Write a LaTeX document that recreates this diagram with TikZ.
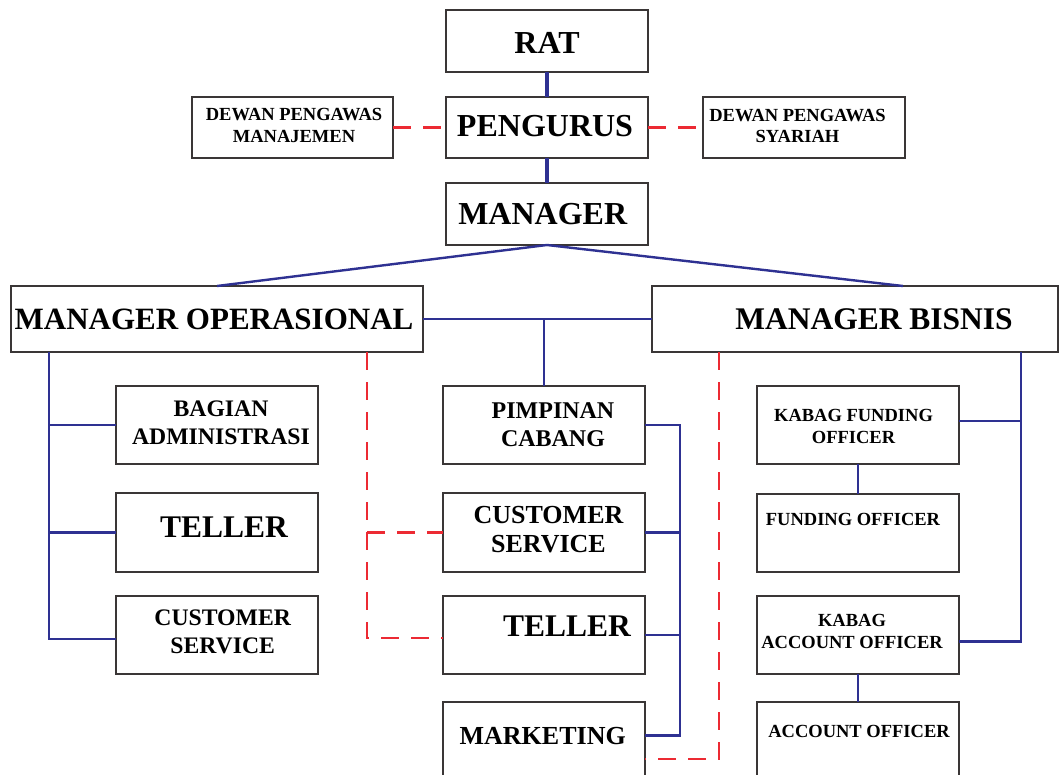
\documentclass[tikz,border=0pt]{standalone}
\usepackage{fontspec}
\setmainfont{Liberation Serif}
\definecolor{navy}{HTML}{2E3192}
\definecolor{dred}{HTML}{EC2A33}
\definecolor{bgray}{HTML}{3A3636}
\newcommand\mkbox[5]{\node[box,minimum width={(#4)-(#2)},minimum height={(#5)-(#3)}] (#1) at ({((#2)+(#4))/2},{((#3)+(#5))/2}) {};}
\newcommand\fs[2]{\fontsize{#1}{#2}\selectfont}
\begin{document}
\begin{tikzpicture}[x=1pt,y=-1pt,
  box/.style={draw=bgray,line width=2.6pt,fill=white,inner sep=0pt,outer sep=0pt},
  lbl/.style={inner sep=0pt,align=center,font=\bfseries},
  blueln/.style={draw=navy,line width=2.8pt},
  thickln/.style={draw=navy,line width=4.2pt},
  redln/.style={draw=dred,line width=2.5pt,dash pattern=on 18pt off 12pt}]
\useasboundingbox (0,0) rectangle (1059,774);
% boxes
\mkbox{rat}{446}{10}{648}{72}
\mkbox{peng}{446}{97}{648}{158}
\mkbox{mgr}{446}{183}{648}{245}
\mkbox{dpm}{192}{97}{393}{158}
\mkbox{dps}{703}{97}{905}{158}
\mkbox{mo}{11}{286}{423}{352}
\mkbox{mb}{652}{286}{1058}{352}
\mkbox{bag}{116}{386}{318}{464}
\mkbox{telL}{116}{493}{318}{572}
\mkbox{csL}{116}{596}{318}{674}
\mkbox{pim}{443}{386}{645}{464}
\mkbox{csM}{443}{493}{645}{572}
\mkbox{telM}{443}{596}{645}{674}
\mkbox{mkt}{443}{702}{645}{800}
\mkbox{kfo}{757}{386}{959}{464}
\mkbox{fo}{757}{494}{959}{572}
\mkbox{kao}{757}{596}{959}{674}
\mkbox{ao}{757}{702}{959}{800}
% labels
\node[lbl,font=\bfseries\fs{32}{34}] (tRat) at (547,42.7) {RAT};
\node[lbl,font=\bfseries\fs{32}{34}] (tPeng) at (545,126) {PENGURUS};
\node[lbl,font=\bfseries\fs{32}{34}] (tMgr) at (542.7,214) {MANAGER};
\node[lbl,font=\bfseries\fs{18.5}{21.7}] (tDpm) at (294,125.5) {DEWAN PENGAWAS\\MANAJEMEN};
\node[lbl,font=\bfseries\fs{18.5}{21.7}] (tDps) at (797.5,126) {DEWAN PENGAWAS\\SYARIAH};
\node[lbl,font=\bfseries\fs{31}{33}] (tMo) at (214,319) {MANAGER OPERASIONAL};
\node[lbl,font=\bfseries\fs{31.5}{33}] (tMb) at (874,319) {MANAGER BISNIS};
\node[lbl,font=\bfseries\fs{23.7}{28}] (tBag) at (221,423) {BAGIAN\\ADMINISTRASI};
\node[lbl,font=\bfseries\fs{31.5}{33}] (tTelL) at (224,527) {TELLER};
\node[lbl,font=\bfseries\fs{23.7}{28}] (tCsL) at (222.7,632) {CUSTOMER\\SERVICE};
\node[lbl,font=\bfseries\fs{24}{28}] (tPim) at (553,425) {PIMPINAN\\CABANG};
\node[lbl,font=\bfseries\fs{26}{29}] (tCsM) at (548.5,529.5) {CUSTOMER\\SERVICE};
\node[lbl,font=\bfseries\fs{31.5}{33}] (tTelM) at (567,626) {TELLER};
\node[lbl,font=\bfseries\fs{26}{29}] (tMkt) at (542.7,735.7) {MARKETING};
\node[lbl,font=\bfseries\fs{18.5}{22}] (tKfo) at (853.5,426) {KABAG FUNDING\\OFFICER};
\node[lbl,font=\bfseries\fs{18.5}{22}] (tFo) at (853,519) {FUNDING OFFICER};
\node[lbl,font=\bfseries\fs{18.5}{22}] (tKao) at (852,631.7) {KABAG\\ACCOUNT OFFICER};
\node[lbl,font=\bfseries\fs{18.5}{22}] (tAo) at (859,731.7) {ACCOUNT OFFICER};
% top connectors
\draw[thickln] (rat.south) -- (peng.north);
\draw[thickln] (peng.south) -- (mgr.north);
\draw[redln] (dpm.east) -- (peng.west);
\draw[redln] (peng.east) -- (dps.west);
\draw[navy,line width=2.4pt] (mgr.south) -- (mo.north);
\draw[navy,line width=2.4pt] (mgr.south) -- ([xshift=48pt]mb.north);
\draw[blueln] (mo.east) -- (mb.west);
\coordinate (C0) at (544,319);
\draw[blueln] (C0) -- (C0 |- pim.north);
% left tree
\coordinate (L0) at (49,352);
\coordinate (L3) at (49,639);
\draw[blueln] (L0) -- (L3) -- (L3 -| csL.west);
\draw[blueln] (L0 |- bag.west) -- (bag.west);
\draw[blueln] (L0 |- telL.west) -- (telL.west);
% left red
\coordinate (R0) at (367,352);
\coordinate (R2) at (367,638);
\draw[redln] (R0) -- (R2) -- (R2 -| telM.west);
\draw[redln] (R0 |- csM.west) -- (csM.west);
% middle blue
\coordinate (M0) at (680,425);
\coordinate (M1) at (680,735.7);
\draw[blueln] (pim.east) -- (M0) -- (M1) -- (M1 -| mkt.east);
\draw[blueln] (csM.east) -- (csM.east -| M0);
\draw[blueln] (telM.east) -- (telM.east -| M0);
% right red
\coordinate (R3) at (719,759);
\draw[redln] (mb.south -| R3) -- (R3) -- (R3 -| mkt.east);
% right blue
\coordinate (B0) at (1021,352);
\coordinate (B1) at (1021,421);
\coordinate (B2) at (1021,641.7);
\draw[blueln] (B0) -- (B2) -- (B2 -| kao.east);
\draw[blueln] (B1) -- (B1 -| kfo.east);
\draw[blueln] (kfo.south) -- (fo.north);
\draw[blueln] (kao.south) -- (ao.north);
\end{tikzpicture}
\end{document}
